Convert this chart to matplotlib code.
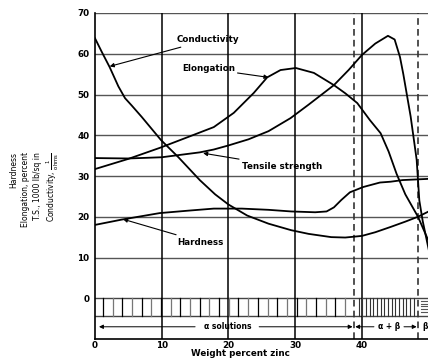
import matplotlib
matplotlib.use("Agg")
import matplotlib.pyplot as plt
import numpy as np

# values (x = weight percent zinc)
cond_x = [0, 1, 2.2, 3.5, 4.5, 5.5, 7, 9.9, 12.5, 15.7, 18, 20, 22.8, 26, 29.4, 32, 35.4, 37.5, 40, 42, 44.3, 46.5, 48.4, 50]
cond_y = [63.8, 60.5, 56.7, 52, 49.1, 47.3, 44.5, 38.8, 34.6, 29, 25.5, 23, 20.3, 18.3, 16.7, 15.8, 15, 14.9, 15.3, 16.2, 17.5, 18.8, 20, 21.3]

elong_x = [0, 5, 9.7, 14, 17.8, 20.8, 23.8, 25.8, 27.8, 30.1, 32.8, 35.8, 37.5, 39.3, 41.2, 42.8, 44, 45.2, 46.5, 48.4, 50]
elong_y = [31.7, 34.2, 36.9, 39.6, 42, 45.5, 50.4, 54.2, 56, 56.5, 55.3, 52.3, 50.3, 47.9, 43.7, 40.5, 36, 30.5, 25.5, 20, 14]

ts_x = [0, 5, 10, 15.7, 17.8, 20, 23, 26, 29.3, 32, 35.8, 38, 40, 42, 43.9, 44.9, 45.7, 46.2, 47.3, 48.2, 48.6, 49.1, 50]
ts_y = [34.4, 34.3, 34.6, 35.8, 36.5, 37.5, 39, 41, 44.2, 47.5, 52.3, 56, 59.7, 62.5, 64.4, 63.5, 59.2, 55, 44.6, 34, 24, 19, 12]

hard_x = [0, 4, 9.7, 14, 17.8, 22, 26, 29.4, 33, 34.7, 35.8, 36.9, 38.2, 40.2, 42.7, 44.3, 46.1, 50]
hard_y = [18, 19.3, 20.9, 21.5, 22, 22, 21.7, 21.3, 21.1, 21.3, 22.3, 24.1, 26, 27.3, 28.4, 28.6, 29, 29.3]

phase_bounds = [38.8, 48.4]
x_ticks = [0, 10, 20, 30, 40]
y_ticks = [0, 10, 20, 30, 40, 50, 60, 70]

fig = plt.figure(figsize=(4.28, 3.58), dpi=100)
ax = fig.add_axes([95 / 428, 19 / 358, 333 / 428, 326 / 358])
ax.set_xlim(0, 49.9)
ax.set_ylim(-10, 70)

# grid
for v in [10, 20, 30, 40, 50, 60, 70]:
    ax.axhline(v, color='#555555', lw=1.0, zorder=1)
ax.axhline(0, color='#444444', lw=1.0, zorder=1)
ax.axhline(-4.4, color='#444444', lw=1.0, zorder=1)
for v in [10, 20, 30, 40]:
    ax.axvline(v, color='black', lw=1.1, zorder=1)
for v in phase_bounds:
    ax.axvline(v, color='#333333', lw=1.2, ls=(0, (4, 2.5)), zorder=2)

# microstructure hatching in the band below zero
for i, hx in enumerate(np.arange(1.2, 38.3, 1.45)):
    ax.plot([hx, hx], [0, -4.4], color='black' if i % 2 == 0 else '#777777', lw=0.9, zorder=1)
for hx in np.arange(39.5, 48.0, 0.55):
    ax.plot([hx, hx], [0, -4.4], color='#333333', lw=0.8, zorder=1)
for hy in np.arange(-0.6, -4.0, -0.7):
    ax.plot([48.9, 49.9], [hy, hy], color='#555555', lw=0.8, zorder=1)

# curves
for xs, ys in [(cond_x, cond_y), (elong_x, elong_y), (ts_x, ts_y), (hard_x, hard_y)]:
    ax.plot(xs, ys, color='black', lw=1.3, zorder=3)

lab = dict(fontsize=6.3, fontweight='bold', color='black')
arr = dict(arrowstyle='-|>', color='black', lw=0.8, mutation_scale=6, shrinkA=0, shrinkB=0)
ax.annotate('Conductivity', xy=(2.2, 56.9), xytext=(12.2, 63.4), va='center', ha='left',
            arrowprops=arr, **lab)
ax.annotate('Elongation', xy=(26.0, 54.2), xytext=(13.0, 56.3), va='center', ha='left',
            arrowprops=arr, **lab)
ax.annotate('Tensile strength', xy=(16.2, 35.6), xytext=(22.0, 32.4), va='center', ha='left',
            arrowprops=arr, **lab)
ax.annotate('Hardness', xy=(4.2, 19.4), xytext=(12.4, 13.8), va='center', ha='left',
            arrowprops=arr, **lab)

# phase region labels
small = dict(fontsize=5.5, fontweight='bold', va='center')
ya = -7.0
ax.annotate('', xy=(0.6, ya), xytext=(15.0, ya), arrowprops=dict(arr, lw=0.7))
ax.text(19.9, ya, 'α solutions', ha='center', **small)
ax.annotate('', xy=(38.6, ya), xytext=(24.6, ya), arrowprops=dict(arr, lw=0.7))
ax.annotate('', xy=(39.0, ya), xytext=(41.8, ya), arrowprops=dict(arr, lw=0.7))
ax.text(44.0, ya, 'α + β', ha='center', **small)
ax.annotate('', xy=(48.2, ya), xytext=(46.3, ya), arrowprops=dict(arr, lw=0.7))
ax.text(49.0, ya, 'β', ha='left', **small)

# axes styling
for s in ['top', 'right']:
    ax.spines[s].set_visible(False)
ax.spines['left'].set_linewidth(1.2)
ax.spines['bottom'].set_linewidth(1.2)
ax.set_xticks(x_ticks)
ax.set_yticks(y_ticks)
ax.tick_params(axis='y', length=0, pad=4, labelsize=6.3)
ax.tick_params(axis='x', length=0, pad=1.5, labelsize=6.3)
for t in ax.get_xticklabels() + ax.get_yticklabels():
    t.set_fontweight('bold')
fig.text(240 / 428, 1 - 354 / 358, 'Weight percent zinc', fontsize=6.3, fontweight='bold',
         ha='center', va='center')

fig.text(0.083, 0.47,
         'Hardness\nElongation, percent\nT.S., 1000 lb/sq in\nConductivity, $\\frac{1}{\\mathrm{ohms}}$',
         rotation=90, ha='center', va='center', multialignment='right',
         fontsize=5.5, family=['Liberation Sans Narrow', 'DejaVu Sans'], linespacing=1.35)

fig.savefig('out.png', dpi=100)
